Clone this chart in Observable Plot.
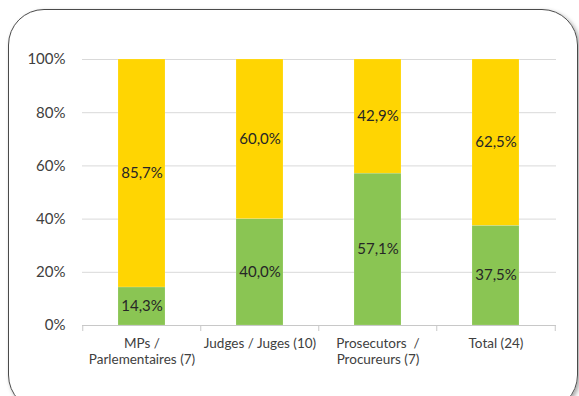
<!DOCTYPE html>
<html>
<head>
<meta charset="utf-8">
<script src="https://cdn.jsdelivr.net/npm/d3@7"></script>
<script src="https://cdn.jsdelivr.net/npm/@observablehq/plot@0.6"></script>
<style>
  body { margin: 0; background: #fff; }
  #wrap { position: relative; width: 579px; height: 396px; overflow: hidden; font-family: Lato, "Open Sans", sans-serif; }
  #frame {
    position: absolute; left: 8px; top: 9px; width: 568px; height: 400px;
    border: 1.3px solid #4a4a4a; border-radius: 36px;
    box-shadow: 2px 2px 4px rgba(0,0,0,0.35);
    pointer-events: none;
  }
  #chart { position: absolute; left: 0; top: 0; }
</style>
</head>
<body>
<div id="wrap">
  <div id="chart"></div>
  <div id="frame"></div>
</div>
<script>
// Groups shown on the x axis (multi-line labels use "\n")
const categories = [
  "MPs /\nParlementaires (7)",
  "Judges / Juges (10)",
  "Prosecutors  /\nProcureurs (7)",
  "Total (24)"
];
// Share of each group, in percent (bottom segment, top segment)
const lowerShare = [14.3, 40.0, 57.1, 37.5];
const upperShare = [85.7, 60.0, 42.9, 62.5];
const yTicks = [0, 20, 40, 60, 80, 100];

const seriesNames = ["lower", "upper"];
const seriesColors = ["#8AC553", "#FFD502"];

const rows = [];
categories.forEach((c, i) => {
  rows.push({cat: c, series: "lower", value: lowerShare[i]});
  rows.push({cat: c, series: "upper", value: upperShare[i]});
});

const fmt = v => v.toFixed(1).replace(".", ",") + "%";

const chart = Plot.plot({
  width: 579,
  height: 396,
  marginLeft: 82,
  marginRight: 23,
  marginTop: 59,
  marginBottom: 71,
  style: { fontFamily: "Lato, 'Open Sans', sans-serif", background: "transparent" },
  x: { domain: categories, paddingInner: 0.6, paddingOuter: 0.3, label: null },
  y: { domain: [0, 100], label: null },
  color: { domain: seriesNames, range: seriesColors },
  marks: [
    Plot.gridY(yTicks, { stroke: "#d9d9d9", strokeOpacity: 1, strokeWidth: 1 }),
    Plot.barY(rows, Plot.stackY({
      x: "cat", y: "value", z: "series", fill: "series",
      stroke: "#ffffff", strokeOpacity: 0.3, strokeWidth: 0.5
    })),
    Plot.text(rows, Plot.stackY({
      x: "cat", y: "value", z: "series",
      text: d => fmt(d.value),
      fill: "#262626", fontSize: 15
    })),
    Plot.ruleY([0], { stroke: "#c8c8c8", strokeWidth: 1 }),
    // category separator ticks below the baseline
    Plot.ruleX(categories, { x: d => d, y1: 0, y2: 0, dx: -59.25, insetBottom: -6, stroke: "#c8c8c8" }),
    Plot.ruleX(categories.slice(-1), { x: d => d, y1: 0, y2: 0, dx: 59.25, insetBottom: -6, stroke: "#c8c8c8" }),
    Plot.axisY(yTicks, {
      tickSize: 0, tickPadding: 17, fontSize: 15, fill: "#404040",
      tickFormat: d => d + "%", label: null
    }),
    Plot.axisX({
      tickSize: 0, tickPadding: 11, fontSize: 13.5, fill: "#404040",
      lineHeight: 1.2, label: null
    })
  ]
});

document.getElementById("chart").appendChild(chart);
</script>
</body>
</html>
